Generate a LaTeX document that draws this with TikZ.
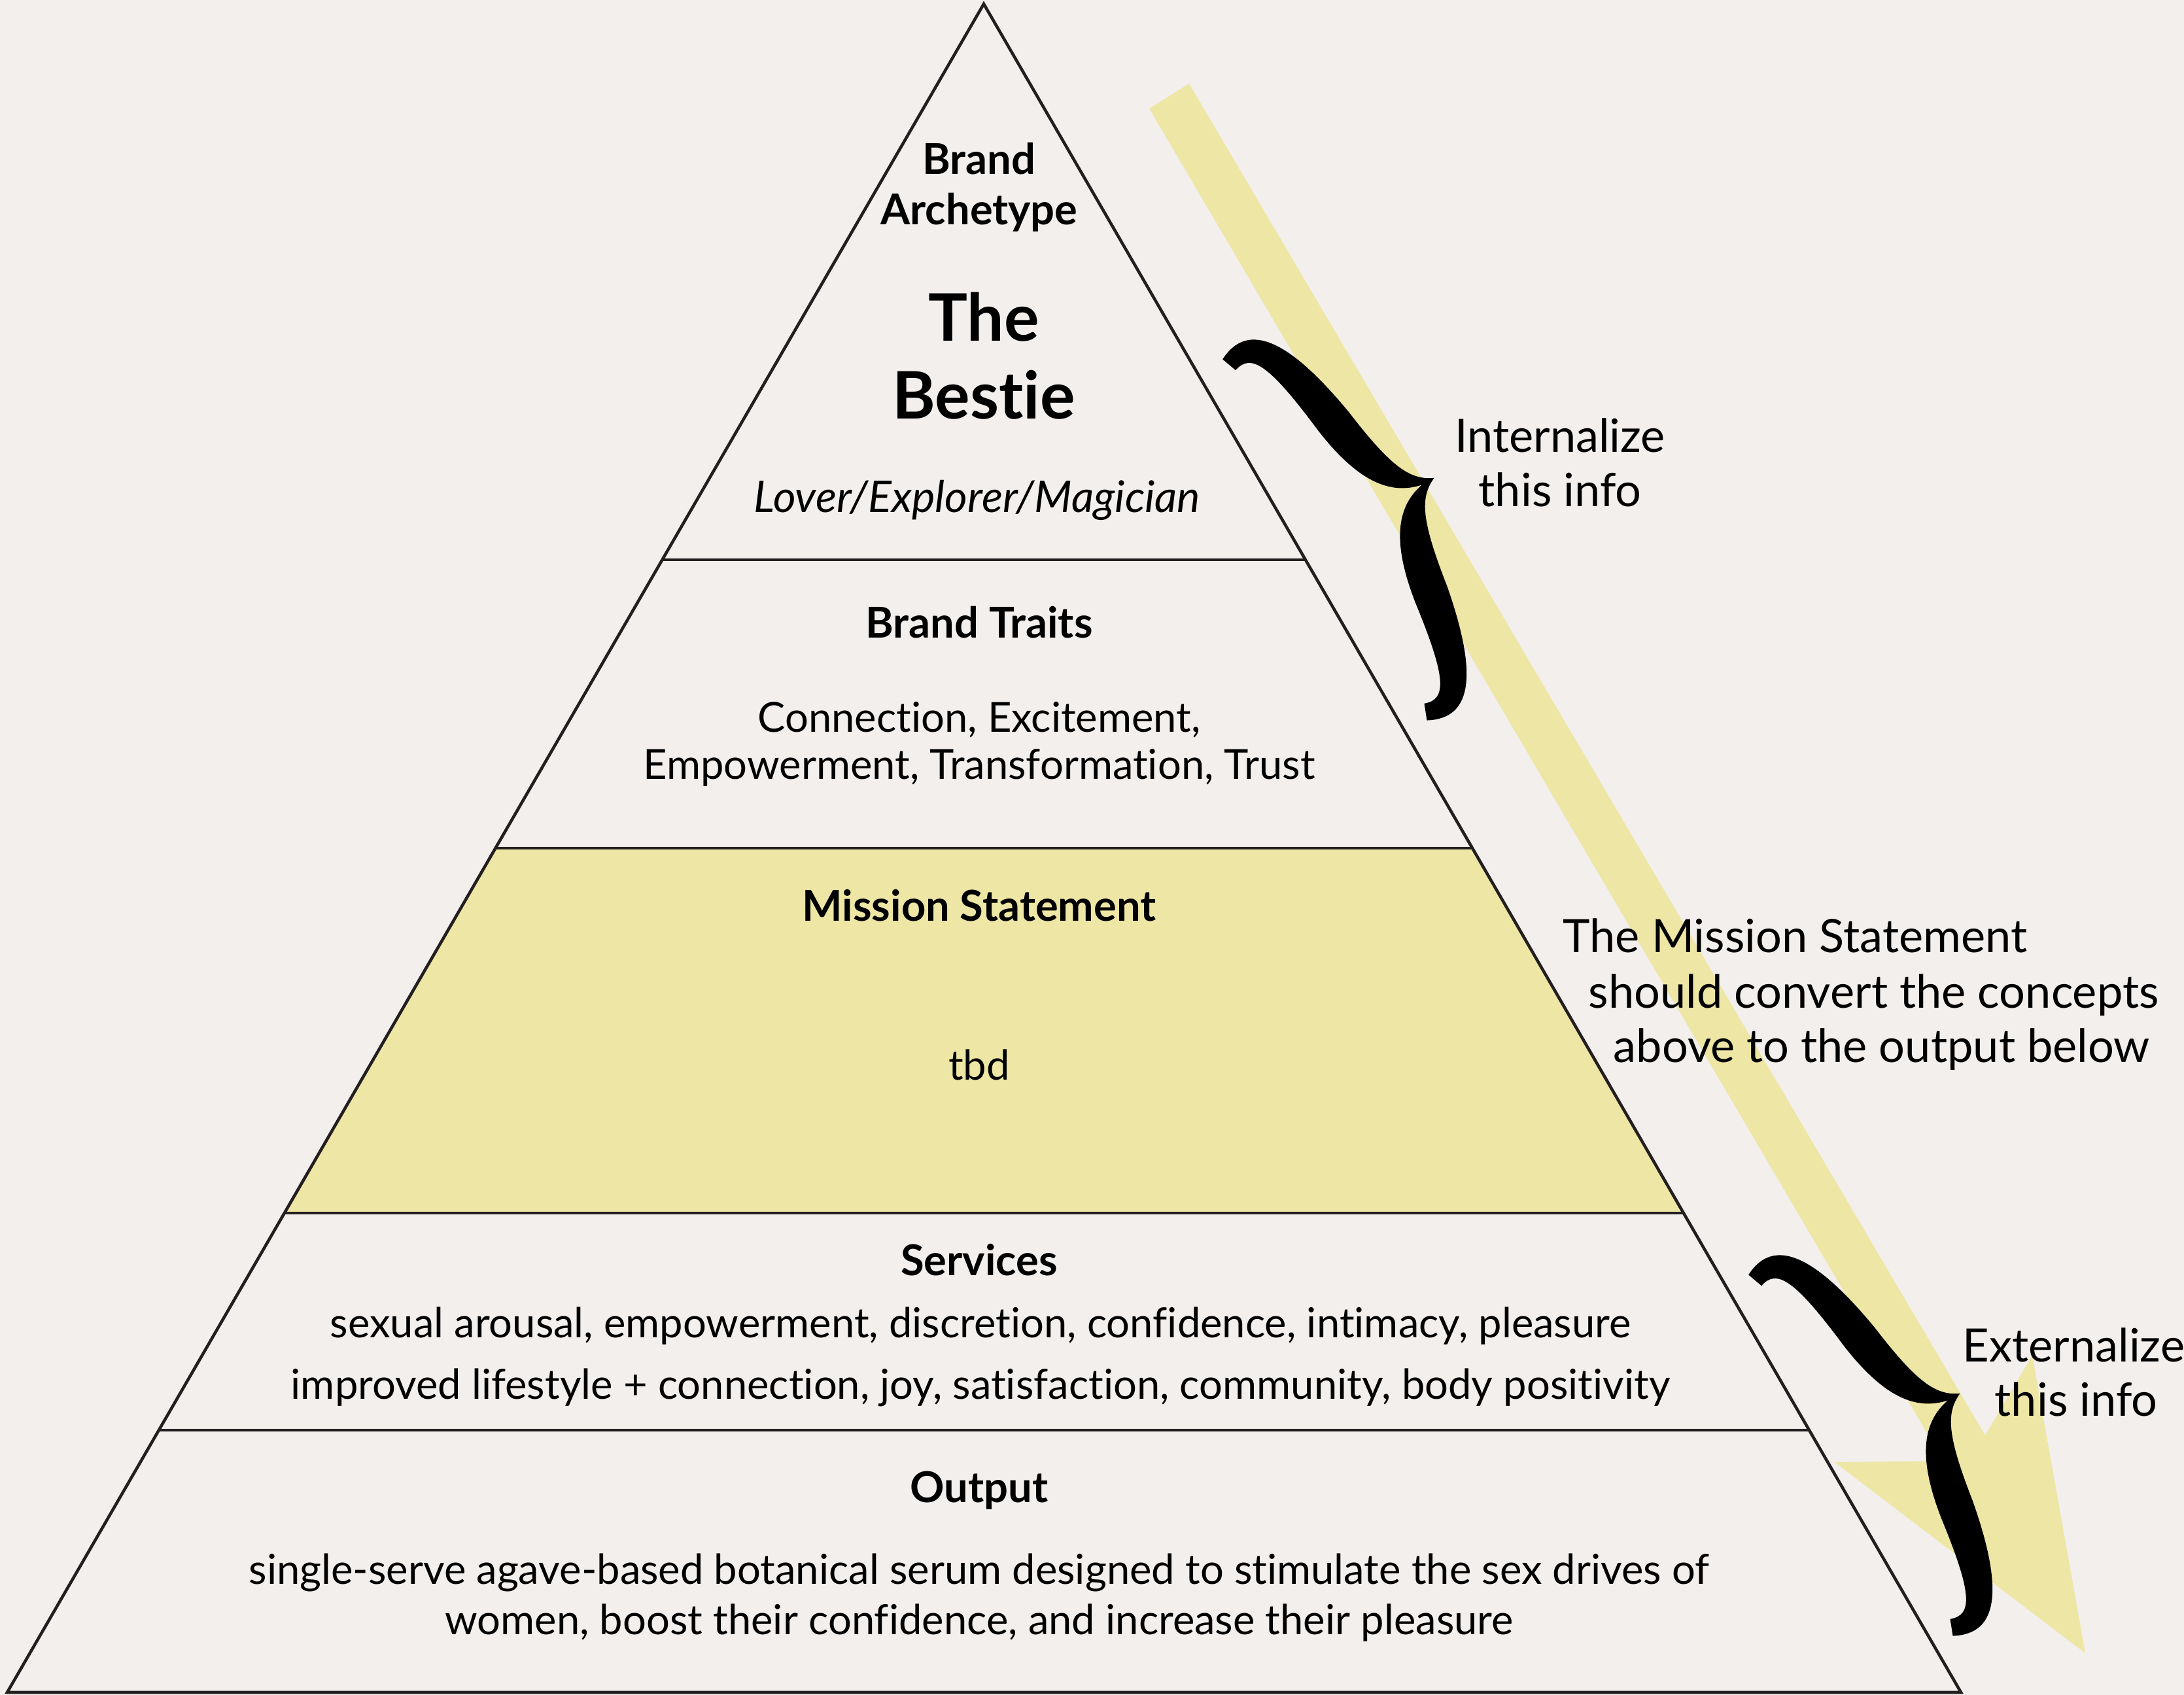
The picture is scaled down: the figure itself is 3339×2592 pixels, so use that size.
\documentclass[tikz,border=0pt]{standalone}
\usepackage{fontspec}
\usepackage{xcolor}
\setmainfont{Lato}[Ligatures={NoCommon}]
\usetikzlibrary{calc}

\definecolor{paper}{RGB}{242,239,237}
\definecolor{sand}{RGB}{238,230,164}
\definecolor{ink}{RGB}{35,31,32}

\begin{document}
\begin{tikzpicture}[x=0.01cm, y=-0.01cm,
  lbl/.style={inner sep=0pt, text height=0.75em, text depth=0.25em},
  head/.style={lbl, font=\fontsize{18.5}{22}\selectfont\bfseries},
  body/.style={lbl, font=\fontsize{18}{21}\selectfont},
  side/.style={lbl, font=\fontsize{20}{24}\selectfont},
  tier/.style={draw=ink, line width=1.3pt},
  bigbrace/.pic={
    \fill[black] (-0.01,1.04) .. controls (0.2,1.15) and (0.33,0.95) .. (0.41,0.5)
      .. controls (0.46,0.15) and (0.51,0.05) .. (0.62,0)
      .. controls (0.51,-0.05) and (0.46,-0.15) .. (0.41,-0.5)
      .. controls (0.33,-0.95) and (0.2,-1.15) .. (-0.01,-1.04)
      -- (0.02,-0.96)
      .. controls (0.13,-1.0) and (0.18,-0.9) .. (0.23,-0.5)
      .. controls (0.28,-0.15) and (0.4,-0.03) .. (0.55,0)
      .. controls (0.4,0.03) and (0.28,0.15) .. (0.23,0.5)
      .. controls (0.18,0.9) and (0.13,1.0) .. (0.02,0.96) -- cycle;
  }]

\fill[paper] (0,0) rectangle (3339,2592);
\useasboundingbox (0,0) rectangle (3339,2592);

% yellow arrow behind everything
\fill[sand] (1757,166) -- (1818,128) -- (3035,2195) -- (3107,2073) -- (3188,2528)
  -- (2805,2236) -- (2971,2234) -- cycle;

\coordinate (apex) at (1504,6);
\coordinate (bl) at (11,2588);
\coordinate (br) at (2998,2588);
\foreach \k/\t in {1/0.3292, 2/0.5, 3/0.7161, 4/0.8447} {
  \coordinate (l\k) at ($(apex)!\t!(bl)$);
  \coordinate (r\k) at ($(apex)!\t!(br)$);
}

\fill[sand] (l2) -- (r2) -- (r3) -- (l3) -- cycle;
\draw[tier] (apex) -- (br) -- (bl) -- cycle;
\foreach \k in {1,...,4}
  \draw[tier] (l\k) -- (r\k);

% tiers
\node[head] (arch1) at (1497,258) {Brand};
\node[head] (arch2) at (1497,335) {Archetype};
\node[lbl, font=\fontsize{28.5}{34}\selectfont\bfseries] (the) at (1504,513) {The};
\node[lbl, font=\fontsize{28.5}{34}\selectfont\bfseries] (bestie) at (1504,632) {Bestie};
\node[lbl, font=\fontsize{19}{23}\selectfont\itshape] (lover) at (1494,775) {Lover/Explorer/Magician};

\node[head] (traits) at (1497,967) {Brand Traits};
\node[body] (traits1) at (1497,1111) {Connection, Excitement,};
\node[body] (traits2) at (1497,1183) {Empowerment, Transformation, Trust};

\node[head] (mission) at (1497,1400) {Mission Statement};
\node[body] (tbd) at (1497,1643) {tbd};

\node[head] (services) at (1497,1942) {Services};
\node[body] (serv1) at (1499,2037) {sexual arousal, empowerment, discretion, confidence, intimacy, pleasure};
\node[body] (serv2) at (1499,2131) {improved lifestyle + connection, joy, satisfaction, community, body positivity};

\node[head] (output) at (1497,2289) {Output};
\node[body] (out1) at (1497,2414) {single-serve agave-based botanical serum designed to stimulate the sex drives of};
\node[body] (out2) at (1497,2491) {women, boost their confidence, and increase their pleasure};

% braces and notes
\pic[rotate=29.5, scale=305] (intbrace) at (2028,824) {bigbrace};
\pic[rotate=29.5, scale=305] (extbrace) at (2832,2224) {bigbrace};

\node[side] (int1) at (2385,683) {Internalize};
\node[side] (int2) at (2385,766) {this info};

\node[side, anchor=west] (conv1) at (2389,1448) {The Mission Statement};
\node[side, anchor=west] (conv2) at (2428,1533) {should convert the concepts};
\node[side, anchor=west] (conv3) at (2466,1616) {above to the output below};

\node[side, anchor=west] (ext1) at (3000,2074) {Externalize};
\node[side, anchor=west] (ext2) at (3049,2157) {this info};
\end{tikzpicture}
\end{document}
